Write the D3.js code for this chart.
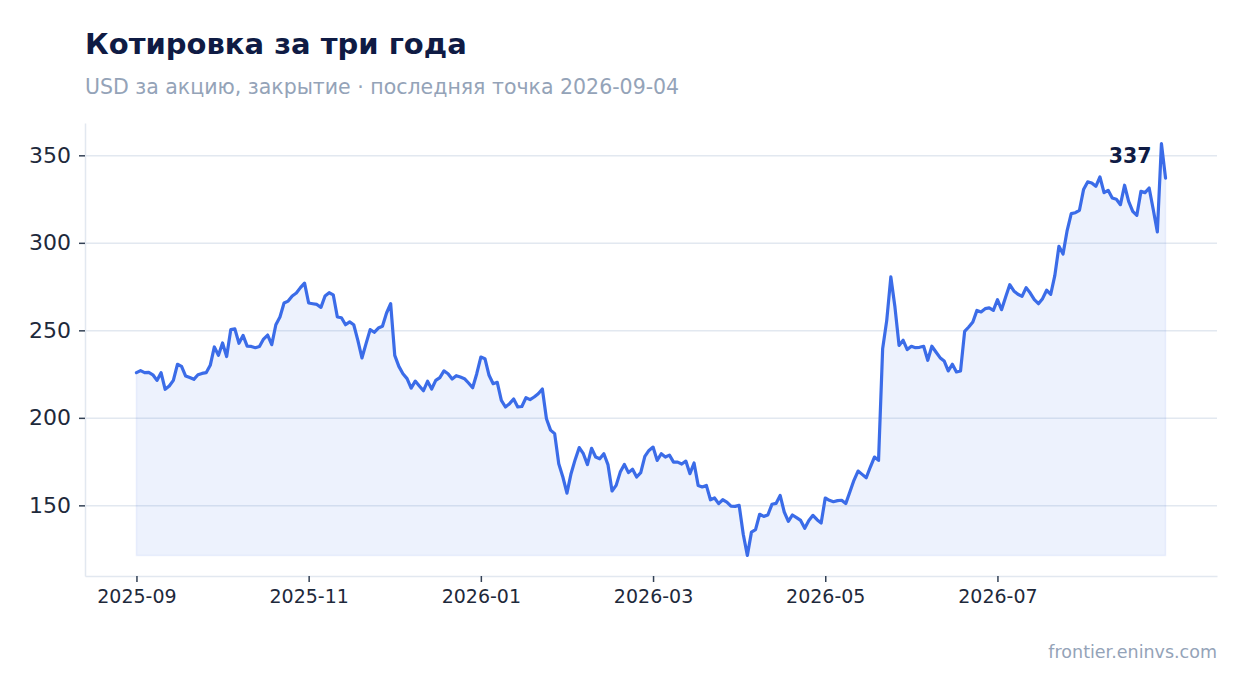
<!DOCTYPE html>
<html>
<head>
<meta charset="utf-8">
<script src="https://cdn.jsdelivr.net/npm/d3@7"></script>
<style>
  body { margin: 0; background: #fff; font-family: "DejaVu Sans", sans-serif; }
</style>
</head>
<body>
<div id="chart"></div>
<script>
// close prices, one per trading day
const closePrices = [
  225.8, 227.0, 225.8, 226.0, 224.6, 221.4, 225.8, 216.3, 218.2, 221.4,
  230.6, 229.4, 223.9, 223.0, 222.0, 224.6, 225.4, 225.8, 230.0, 240.5,
  235.7, 242.8, 235.0, 250.4, 250.8, 242.6, 247.1, 241.0, 240.8, 240.1,
  240.8, 245.0, 247.3, 241.8, 253.2, 257.6, 265.6, 266.7, 269.6, 271.3,
  274.4, 277.0, 265.6, 265.2, 264.8, 263.1, 269.6, 271.5, 270.3, 257.6,
  257.2, 253.2, 254.8, 253.2, 244.3, 234.2, 242.4, 250.4, 248.9, 251.3,
  252.3, 259.9, 265.2, 235.7, 229.4, 225.2, 222.4, 217.0, 221.0, 218.2,
  215.5, 220.9, 216.5, 221.4, 223.0, 226.8, 225.2, 222.2, 224.1, 223.3,
  222.4, 219.9, 217.2, 225.2, 234.7, 233.8, 224.3, 219.5, 220.3, 210.0,
  206.2, 208.1, 210.8, 206.2, 206.5, 211.5, 210.4, 211.9, 213.8, 216.5,
  199.5, 193.0, 191.0, 173.8, 166.2, 157.0, 168.1, 176.1, 183.0, 179.5,
  173.3, 182.6, 177.6, 176.6, 179.5, 173.3, 158.2, 161.4, 169.0, 173.4,
  168.7, 170.6, 166.2, 168.7, 178.0, 181.4, 183.3, 175.7, 179.5, 177.6,
  178.7, 174.7, 174.7, 173.6, 175.3, 168.1, 174.2, 161.4, 160.5, 161.4,
  153.2, 154.2, 151.0, 153.2, 151.9, 149.6, 149.4, 150.0, 133.5, 121.4,
  134.7, 136.1, 144.9, 143.7, 144.5, 150.6, 151.1, 155.7, 146.2, 140.9,
  144.5, 143.0, 141.4, 136.9, 141.4, 144.3, 141.8, 139.9, 154.2, 152.9,
  152.1, 152.7, 152.9, 151.0, 157.6, 164.3, 169.6, 167.7, 165.8, 171.9,
  177.6, 175.7, 239.5, 255.7, 280.5, 263.3, 241.4, 244.3, 239.0, 240.9,
  240.1, 240.3, 240.9, 232.9, 240.9, 237.6, 234.4, 232.5, 226.8, 230.6,
  226.2, 226.8, 249.4, 251.9, 254.8, 261.4, 260.5, 262.4, 262.8, 261.4,
  267.5, 261.8, 269.0, 276.1, 272.5, 270.6, 269.4, 274.4, 271.3, 267.5,
  265.2, 268.1, 272.9, 270.6, 281.4, 298.0, 293.6, 307.0, 316.7, 317.2,
  318.6, 330.4, 334.8, 334.2, 332.3, 337.6, 328.7, 330.0, 325.6, 324.9,
  321.8, 332.9, 323.7, 318.0, 315.7, 329.4, 328.7, 331.3, 319.0, 306.2,
  356.7, 337.0
]

// which trading day each month label sits on
const tickIdx = [0, 42, 84, 126, 168, 210]
const tickLabels = ['2025-09', '2025-11', '2026-01', '2026-03', '2026-05', '2026-07']

const titleText = 'Котировка за три года'
const subtitleText = 'USD за акцию, закрытие · последняя точка 2026-09-04'
const sourceText = 'frontier.eninvs.com'

const width = 1247
const height = 693
const margin = { top: 123, right: 30, bottom: 117, left: 85 }
const plotW = width - margin.left - margin.right

const lineColor = '#3b6ce8'
const ink = '#1e293b'
const muted = '#94a3b8'
const gridColor = '#e2e8f0'

const svg = d3.select('#chart').append('svg')
    .attr('width', width)
    .attr('height', height)

const n = closePrices.length
const padX = (n - 1) * 0.05
const x = d3.scaleLinear()
    .domain([-padX, n - 1 + padX])
    .range([margin.left, width - margin.right])

const lo = d3.min(closePrices)
const hi = d3.max(closePrices)
const padY = (hi - lo) * 0.05
const y = d3.scaleLinear()
    .domain([lo - padY, hi + padY])
    .range([height - margin.bottom, margin.top])

// gridlines
svg.append('g')
    .attr('transform', `translate(${margin.left},0)`)
    .call(d3.axisLeft(y).ticks(5).tickSize(-plotW).tickFormat(''))
    .call(g => g.select('.domain').remove())
    .call(g => g.selectAll('line').attr('stroke', gridColor).attr('stroke-width', 1.5))

// area under the line, down to the lowest close
const area = d3.area()
    .x((d, i) => x(i))
    .y0(y(lo))
    .y1(d => y(d))

svg.append('path')
    .datum(closePrices)
    .attr('d', area)
    .attr('fill', lineColor)
    .attr('fill-opacity', 0.09)
    .attr('stroke', lineColor)
    .attr('stroke-opacity', 0.08)
    .attr('stroke-width', 1.5)

const line = d3.line()
    .x((d, i) => x(i))
    .y(d => y(d))

svg.append('path')
    .datum(closePrices)
    .attr('d', line)
    .attr('fill', 'none')
    .attr('stroke', lineColor)
    .attr('stroke-width', 3.2)
    .attr('stroke-linejoin', 'round')
    .attr('stroke-linecap', 'round')

// axes
const styleAxis = g => {
    g.select('.domain').attr('stroke', gridColor).attr('stroke-width', 1.5)
    g.selectAll('.tick line').attr('stroke', '#334155').attr('stroke-width', 1.5)
    g.selectAll('.tick text').attr('fill', ink).attr('font-family', '"DejaVu Sans", sans-serif')
}

svg.append('g')
    .attr('transform', `translate(${margin.left},0)`)
    .call(d3.axisLeft(y).ticks(5).tickSizeOuter(0).tickPadding(8))
    .call(styleAxis)
    .call(g => g.selectAll('.tick text').attr('font-size', 22))

svg.append('g')
    .attr('transform', `translate(0,${height - margin.bottom})`)
    .call(d3.axisBottom(x).tickValues(tickIdx).tickFormat((d, i) => tickLabels[i]).tickSizeOuter(0).tickPadding(8))
    .call(styleAxis)
    .call(g => g.selectAll('.tick text').attr('font-size', 19))

// last value label
const last = closePrices[n - 1]
svg.append('text')
    .attr('x', x(n - 1) - 14)
    .attr('y', y(last) - 15)
    .attr('text-anchor', 'end')
    .attr('font-size', 20.5)
    .attr('font-weight', 'bold')
    .attr('fill', '#0f1b44')
    .text(d3.format('.0f')(last))

// titles
svg.append('text')
    .attr('x', margin.left)
    .attr('y', 54)
    .attr('font-size', 29)
    .attr('font-weight', 'bold')
    .attr('fill', '#0f1b44')
    .text(titleText)

svg.append('text')
    .attr('x', margin.left)
    .attr('y', 94)
    .attr('font-size', 20.5)
    .attr('fill', muted)
    .text(subtitleText)

svg.append('text')
    .attr('x', width - margin.right)
    .attr('y', 658)
    .attr('text-anchor', 'end')
    .attr('font-size', 17.5)
    .attr('fill', muted)
    .text(sourceText)
</script>
</body>
</html>
